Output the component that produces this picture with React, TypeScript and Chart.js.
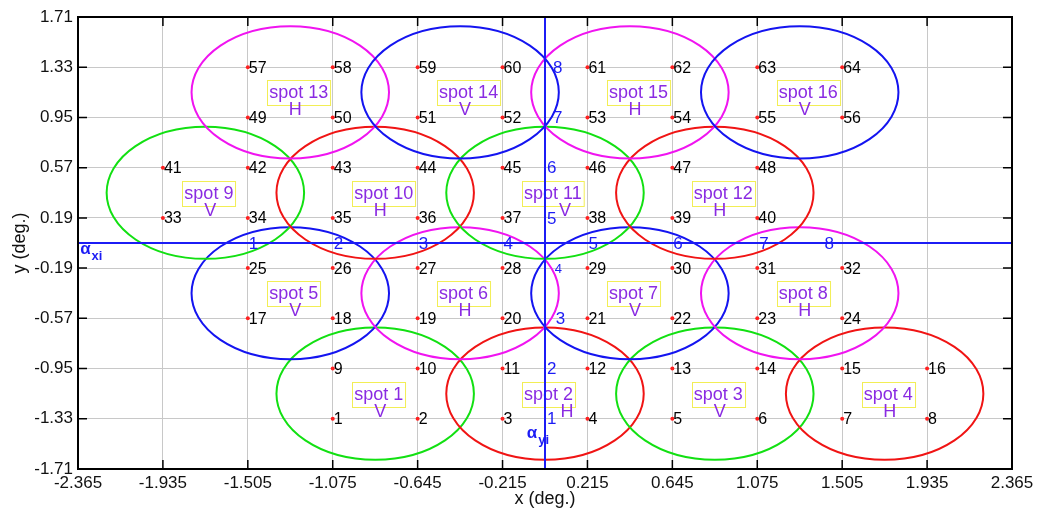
import React, { useEffect, useRef } from "react";
import { Chart, registerables } from "chart.js";

Chart.register(...registerables);

const FONT = "'Liberation Sans', Arial, Helvetica, sans-serif";

// Axis ticks
const xTicks = [-2.365, -1.935, -1.505, -1.075, -0.645, -0.215, 0.215, 0.645, 1.075, 1.505, 1.935, 2.365];
const xTickLabels = ["-2.365", "-1.935", "-1.505", "-1.075", "-0.645", "-0.215", "0.215", "0.645", "1.075", "1.505", "1.935", "2.365"];
const yTicks = [-1.71, -1.33, -0.95, -0.57, -0.19, 0.19, 0.57, 0.95, 1.33, 1.71];
const yTickLabels = ["-1.71", "-1.33", "-0.95", "-0.57", "-0.19", "0.19", "0.57", "0.95", "1.33", "1.71"];

// Numbered sample points, one row per y level
const rowY = [-1.33, -0.95, -0.57, -0.19, 0.19, 0.57, 0.95, 1.33];
const rowX = [
  [-1.075, -0.645, -0.215, 0.215, 0.645, 1.075, 1.505, 1.935],
  [-1.075, -0.645, -0.215, 0.215, 0.645, 1.075, 1.505, 1.935],
  [-1.505, -1.075, -0.645, -0.215, 0.215, 0.645, 1.075, 1.505],
  [-1.505, -1.075, -0.645, -0.215, 0.215, 0.645, 1.075, 1.505],
  [-1.935, -1.505, -1.075, -0.645, -0.215, 0.215, 0.645, 1.075],
  [-1.935, -1.505, -1.075, -0.645, -0.215, 0.215, 0.645, 1.075],
  [-1.505, -1.075, -0.645, -0.215, 0.215, 0.645, 1.075, 1.505],
  [-1.505, -1.075, -0.645, -0.215, 0.215, 0.645, 1.075, 1.505],
];
const rowIds = [
  [1, 2, 3, 4, 5, 6, 7, 8],
  [9, 10, 11, 12, 13, 14, 15, 16],
  [17, 18, 19, 20, 21, 22, 23, 24],
  [25, 26, 27, 28, 29, 30, 31, 32],
  [33, 34, 35, 36, 37, 38, 39, 40],
  [41, 42, 43, 44, 45, 46, 47, 48],
  [49, 50, 51, 52, 53, 54, 55, 56],
  [57, 58, 59, 60, 61, 62, 63, 64],
];

// Beam spots (circles of radius spotRadius in degrees)
const spotX = [-0.86, 0, 0.86, 1.72, -1.29, -0.43, 0.43, 1.29, -1.72, -0.86, 0, 0.86, -1.29, -0.43, 0.43, 1.29];
const spotY = [-1.14, -1.14, -1.14, -1.14, -0.38, -0.38, -0.38, -0.38, 0.38, 0.38, 0.38, 0.38, 1.14, 1.14, 1.14, 1.14];
const spotPol = ["V", "H", "V", "H", "V", "H", "V", "H", "V", "H", "V", "H", "H", "V", "H", "V"];
// horizontal nudge (px) of the polarisation letter, to keep it off the alpha_yi axis
const spotPolShift = [5, 22, 5, 5, 5, 5, 5, 5, 5, 5, 20, 5, 5, 5, 5, 5];
const spotColor = [
  "#12e012", "#f01414", "#12e012", "#f01414",
  "#1414f0", "#f014f0", "#1414f0", "#f014f0",
  "#12e012", "#f01414", "#12e012", "#f01414",
  "#f014f0", "#1414f0", "#f014f0", "#1414f0",
];
const spotRadius = 0.5;

// Index marks along the alpha axes
const xiLabels = ["1", "2", "3", "4", "5", "6", "7", "8"];
const xiX = [-1.505, -1.075, -0.645, -0.215, 0.215, 0.645, 1.08, 1.41];
const yiLabels = ["1", "2", "3", "4", "5", "6", "7", "8"];
const yiX = [0.01, 0.01, 0.055, 0.05, 0.01, 0.01, 0.04, 0.04];
const yiY = [-1.33, -0.95, -0.57, -0.19, 0.19, 0.57, 0.95, 1.33];

const AXIS_BLUE = "#1c1cf5";
const LABEL_PURPLE = "#8a2be2";

const overlay = {
  id: "overlay",
  afterDatasetsDraw(chart: any) {
    const { ctx, scales, chartArea } = chart;
    const xs = scales.x;
    const ys = scales.y;
    ctx.save();

    // spot circles
    ctx.lineWidth = 2;
    for (let i = 0; i < spotX.length; i++) {
      const cx = xs.getPixelForValue(spotX[i]);
      const cy = ys.getPixelForValue(spotY[i]);
      const rx = xs.getPixelForValue(spotX[i] + spotRadius) - cx;
      const ry = cy - ys.getPixelForValue(spotY[i] + spotRadius);
      ctx.strokeStyle = spotColor[i];
      ctx.beginPath();
      ctx.ellipse(cx, cy, rx, ry, 0, 0, Math.PI * 2);
      ctx.stroke();
    }

    // point numbers
    ctx.fillStyle = "#000";
    ctx.font = `16px ${FONT}`;
    ctx.textAlign = "left";
    ctx.textBaseline = "middle";
    for (let r = 0; r < rowY.length; r++) {
      for (let c = 0; c < rowX[r].length; c++) {
        const px = xs.getPixelForValue(rowX[r][c]);
        const py = ys.getPixelForValue(rowY[r]);
        ctx.fillText(String(rowIds[r][c]), px + 1, py + 1);
      }
    }

    // spot labels
    ctx.font = `18px ${FONT}`;
    for (let i = 0; i < spotX.length; i++) {
      const cx = xs.getPixelForValue(spotX[i]);
      const cy = ys.getPixelForValue(spotY[i]);
      const name = `spot ${i + 1}`;
      const w = ctx.measureText(name).width;
      ctx.strokeStyle = "#f2ee55";
      ctx.lineWidth = 1;
      ctx.strokeRect(Math.round(cx - 23) + 0.5, Math.round(cy - 12) + 0.5, w + 4, 25);
      ctx.fillStyle = LABEL_PURPLE;
      ctx.textAlign = "left";
      ctx.fillText(name, cx - 21, cy + 1);
      ctx.textAlign = "center";
      ctx.fillText(spotPol[i], cx + spotPolShift[i], cy + 18);
    }

    // alpha axes
    ctx.strokeStyle = AXIS_BLUE;
    ctx.lineWidth = 2;
    const x0 = xs.getPixelForValue(0);
    const y0 = ys.getPixelForValue(0);
    ctx.beginPath();
    ctx.moveTo(chartArea.left, y0);
    ctx.lineTo(chartArea.right, y0);
    ctx.moveTo(x0, chartArea.top);
    ctx.lineTo(x0, chartArea.bottom);
    ctx.stroke();

    ctx.fillStyle = AXIS_BLUE;
    ctx.textAlign = "left";
    ctx.textBaseline = "middle";
    ctx.font = `17px ${FONT}`;
    for (let i = 0; i < xiLabels.length; i++) {
      ctx.fillText(xiLabels[i], xs.getPixelForValue(xiX[i]) + 1, y0 + 1);
    }
    for (let i = 0; i < yiLabels.length; i++) {
      ctx.font = i === 3 ? `13px ${FONT}` : `17px ${FONT}`;
      ctx.fillText(yiLabels[i], xs.getPixelForValue(yiX[i]), ys.getPixelForValue(yiY[i]) + 1);
    }

    // alpha_xi and alpha_yi
    const drawAlpha = (x: number, y: number, sub: string) => {
      ctx.font = `bold 17px ${FONT}`;
      ctx.fillText("\u03b1", x, y);
      const aw = ctx.measureText("\u03b1").width;
      ctx.font = `bold 13px ${FONT}`;
      ctx.fillText(sub, x + aw + 1, y + 7);
    };
    drawAlpha(xs.getPixelForValue(-2.354), ys.getPixelForValue(-0.05), "xi");
    drawAlpha(xs.getPixelForValue(-0.092), ys.getPixelForValue(-1.44), "yi");

    ctx.restore();
  },
  afterDraw(chart: any) {
    const { ctx, scales, chartArea } = chart;
    const { left, right, top, bottom } = chartArea;
    ctx.save();
    ctx.strokeStyle = "#000";
    ctx.lineWidth = 1.5;
    const tl = 9;
    ctx.beginPath();
    for (const v of xTicks) {
      const px = scales.x.getPixelForValue(v);
      ctx.moveTo(px, bottom);
      ctx.lineTo(px, bottom - tl);
      ctx.moveTo(px, top);
      ctx.lineTo(px, top + tl);
    }
    for (const v of yTicks) {
      const py = scales.y.getPixelForValue(v);
      ctx.moveTo(left, py);
      ctx.lineTo(left + tl, py);
      ctx.moveTo(right, py);
      ctx.lineTo(right - tl, py);
    }
    ctx.stroke();
    ctx.lineWidth = 2;
    ctx.strokeRect(left, top, right - left, bottom - top);
    ctx.restore();
  },
};

export default function App() {
  const canvasRef = useRef<HTMLCanvasElement | null>(null);

  useEffect(() => {
    const canvas = canvasRef.current;
    if (!canvas) return;

    const points: { x: number; y: number }[] = [];
    for (let r = 0; r < rowY.length; r++) {
      for (let c = 0; c < rowX[r].length; c++) {
        points.push({ x: rowX[r][c], y: rowY[r] });
      }
    }

    const chart = new Chart(canvas, {
      type: "scatter",
      data: {
        datasets: [
          {
            data: points,
            pointRadius: 2,
            pointBackgroundColor: "#ff2020",
            pointBorderWidth: 0,
            showLine: false,
          },
        ],
      },
      options: {
        responsive: false,
        animation: false,
        events: [],
        layout: { padding: { left: 0, top: 17, right: 26, bottom: 0 } },
        plugins: { legend: { display: false }, tooltip: { enabled: false } },
        scales: {
          x: {
            type: "linear",
            min: -2.365,
            max: 2.365,
            afterBuildTicks: (scale: any) => {
              scale.ticks = xTicks.map((v) => ({ value: v }));
            },
            afterFit: (scale: any) => {
              scale.height = 46;
              scale.paddingLeft = 0;
              scale.paddingRight = 0;
            },
            ticks: {
              autoSkip: false,
              maxRotation: 0,
              padding: 4,
              color: "#111",
              font: { family: FONT, size: 17 },
              callback: (value: any) => {
                const i = xTicks.findIndex((t) => Math.abs(t - Number(value)) < 1e-6);
                return i >= 0 ? xTickLabels[i] : "";
              },
            },
            grid: { color: "#c8c8c8", lineWidth: 1, drawTicks: false },
            border: { display: true, color: "#000", width: 2 },
            title: {
              display: true,
              text: "x (deg.)",
              color: "#111",
              font: { family: FONT, size: 18 },
              padding: { top: 0, bottom: 5 },
            },
          },
          y: {
            type: "linear",
            min: -1.71,
            max: 1.71,
            afterBuildTicks: (scale: any) => {
              scale.ticks = yTicks.map((v) => ({ value: v }));
            },
            afterFit: (scale: any) => {
              scale.width = 78;
              scale.paddingTop = 0;
              scale.paddingBottom = 0;
            },
            ticks: {
              autoSkip: false,
              padding: 5,
              color: "#111",
              font: { family: FONT, size: 17 },
              callback: (value: any) => {
                const i = yTicks.findIndex((t) => Math.abs(t - Number(value)) < 1e-6);
                return i >= 0 ? yTickLabels[i] : "";
              },
            },
            grid: { color: "#c8c8c8", lineWidth: 1, drawTicks: false },
            border: { display: true, color: "#000", width: 2 },
            title: {
              display: true,
              text: "y (deg.)",
              color: "#111",
              font: { family: FONT, size: 18 },
              padding: { top: 9, bottom: 0 },
            },
          },
        },
      },
      plugins: [overlay],
    } as any);

    return () => chart.destroy();
  }, []);

  return (
    <div style={{ position: "fixed", left: 0, top: 0, width: 1038, height: 515, background: "#fff" }}>
      <canvas ref={canvasRef} width={1038} height={515} />
    </div>
  );
}
